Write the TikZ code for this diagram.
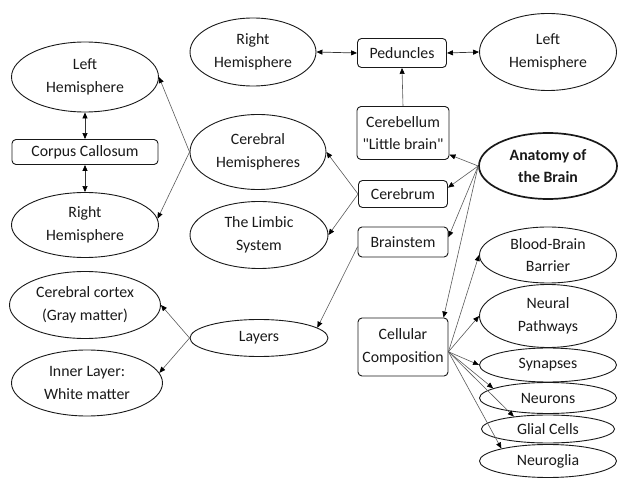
\documentclass[tikz,border=0pt]{standalone}
\usepackage{fontspec}
\setmainfont{Carlito}
\newfontfamily\cfont{Carlito}
\usetikzlibrary{shapes.geometric,arrows.meta}
\begin{document}
\begin{tikzpicture}[x=1pt,y=-1pt,
  every node/.style={font=\cfont\fontsize{15.8}{22.5}\selectfont, text=black!90, align=center, inner sep=0pt},
  ell/.style={ellipse, draw=black!90, line width=0.9pt},
  box/.style={rectangle, rounded corners=4pt, draw=black!90, line width=0.9pt},
  con/.style={draw=black!65, line width=0.6pt, -{Triangle[length=6pt,width=5pt,black]}},
  dcon/.style={draw=black!80, line width=0.7pt, {Triangle[length=6pt,width=5pt,black]}-{Triangle[length=6pt,width=5pt,black]}}]
\useasboundingbox (0,0) rectangle (619,478);
% nodes
\node[ell, minimum width=126pt, minimum height=68pt] (rht) at (253,52) {Right\\Hemisphere};
\node[box, minimum width=89pt, minimum height=29pt] (ped) at (402,53) {Peduncles};
\node[ell, minimum width=137pt, minimum height=77pt] (lht) at (548,52) {Left\\Hemisphere};
\node[ell, minimum width=147pt, minimum height=70pt] (lh) at (85,77) {Left\\Hemisphere};
\node[box, minimum width=146pt, minimum height=25pt] (cc) at (85,152) {Corpus Callosum};
\node[ell, minimum width=147pt, minimum height=65pt] (rh) at (85,225) {Right\\Hemisphere};
\node[ell, minimum width=136pt, minimum height=75pt] (chem) at (258,152) {Cerebral\\Hemispheres};
\node[ell, minimum width=138pt, minimum height=67pt] (lim) at (259,235) {The Limbic\\System};
\node[ell, minimum width=151pt, minimum height=67pt] (ctx) at (85,305) {Cerebral cortex\\(Gray matter)};
\node[ell, minimum width=151pt, minimum height=66pt] (inn) at (87,383) {Inner Layer:\\White matter};
\node[ell, minimum width=138pt, minimum height=37pt] (lay) at (259,338) {Layers};
\node[box, minimum width=92pt, minimum height=53pt] (cbl) at (403,133) {Cerebellum\\"Little brain"};
\node[ell, minimum width=138pt, minimum height=66pt, line width=1.7pt, font=\cfont\fontsize{15.8}{22.5}\selectfont\bfseries] (anat) at (548,166) {Anatomy of\\the Brain};
\node[box, minimum width=89pt, minimum height=27pt] (cer) at (403,194) {Cerebrum};
\node[box, minimum width=90pt, minimum height=30pt] (bst) at (403,242) {Brainstem};
\node[box, minimum width=90pt, minimum height=58pt] (cel) at (403,347) {Cellular\\Composition};
\node[ell, minimum width=137pt, minimum height=56pt] (bb) at (548,255) {Blood-Brain\\Barrier};
\node[ell, minimum width=137pt, minimum height=63pt] (np) at (548,316) {Neural\\Pathways};
\node[ell, minimum width=137pt, minimum height=34pt] (syn) at (548,365) {Synapses};
\node[ell, minimum width=137pt, minimum height=31pt] (neu) at (548,398) {Neurons};
\node[ell, minimum width=133pt, minimum height=28pt] (gli) at (548,429) {Glial Cells};
\node[ell, minimum width=137pt, minimum height=33pt] (ngl) at (548,461) {Neuroglia};
% connectors
\draw[dcon] (rht.east) -- (ped.west);
\draw[dcon] (ped.east) -- (lht.west);
\draw[con] (cbl.north) -- (ped.south);
\draw[dcon] (lh.south) -- (cc.north);
\draw[dcon] (cc.south) -- (rh.north);
\draw[con] (anat.west) -- (cbl.-25);
\draw[con] (anat.west) -- (cer.8);
\draw[con] (anat.west) -- (bst.6);
\draw[con] (anat.west) -- (cel.36);
\draw[con] (cer.west) -- (chem.east);
\draw[con] (cer.west) -- (lim.east);
\draw[con] (chem.west) -- (lh.east);
\draw[con] (chem.west) -- (rh.5);
\draw[con] (bst.-174) -- (lay.10);
\draw[con] (lay.west) -- (ctx.east);
\draw[con] (lay.west) -- (inn.8);
\draw[con] (cel.-6) -- (bb.west);
\draw[con] (cel.-6) -- (np.west);
\draw[con] (cel.-6) -- (syn.west);
\draw[con] (cel.-6) -- (neu.170);
\draw[con] (cel.-6) -- (gli.160);
\draw[con] (cel.-6) -- (ngl.165);
\end{tikzpicture}
\end{document}
